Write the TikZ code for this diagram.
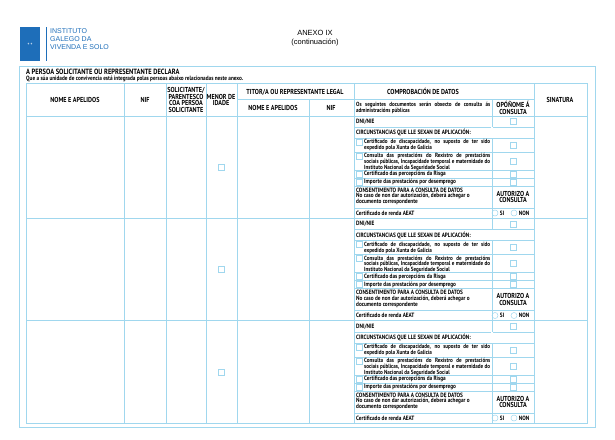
\documentclass[tikz,border=0pt]{standalone}
\usepackage{fontspec}
\setmainfont{PT Sans}[FakeStretch=0.85]
\setsansfont{Liberation Sans}
\usetikzlibrary{positioning}
\definecolor{linea}{RGB}{160,215,238}
\definecolor{xunta}{RGB}{30,110,185}
\hyphenpenalty=10000
\exhyphenpenalty=10000
\begin{document}
\begin{tikzpicture}[x=1pt,y=-1pt,
	grid/.style={draw=linea, line width=0.6pt},
	cbox/.style={draw=linea, line width=0.5pt, minimum size=6pt, inner sep=0pt},
	rbox/.style={draw=linea, line width=0.5pt, circle, minimum size=6pt, inner sep=0pt},
	hdr/.style={font=\bfseries\fontsize{7.2}{6.6}\selectfont, align=center, inner sep=0pt},
	txt/.style={font=\bfseries\fontsize{6.2}{5.8}\selectfont, inner sep=0pt, anchor=west, align=left},
	jtxt/.style={font=\bfseries\fontsize{6.0}{5.8}\selectfont, inner sep=0pt, anchor=north west, align=justify, text width=126pt}]
	\useasboundingbox (0,0) rectangle (615,439);
	% Logo
		\fill[xunta] (20,27) rectangle (40,61);
		\node[font=\fontsize{4}{4}\selectfont, white] (escudo) at (30,44) {\textbf{+\,\,+}};
		\draw[xunta, line width=0.6pt] (46,27) -- (46,61);
		\node[font=\sffamily\fontsize{7}{8}\selectfont, xunta, anchor=north west, align=left, inner sep=0pt] (inst) at (50,28.5) {INSTITUTO\\GALEGO DA\\VIVENDA E SOLO};
		\node[font=\sffamily\fontsize{7.5}{9}\selectfont, align=center, inner sep=0pt] (titulo) at (315,38) {ANEXO IX\\(continuación)};
	% Marco
		\draw[grid] (19,66) rectangle (595,427);
		\node[txt, font=\bfseries\fontsize{7.6}{8}\selectfont] (declara) at (26,72) {A PERSOA SOLICITANTE OU REPRESENTANTE DECLARA};
		\node[txt, font=\bfseries\fontsize{6.2}{7}\selectfont] (convive) at (26,78.6) {Que a súa unidade de convivencia está integrada polas persoas abaixo relacionadas neste anexo.};
	% Cabeceira
		\draw[grid] (26,83) rectangle (587,423);
		\foreach \cx in {124,166,206,237,354,534} \draw[grid] (\cx,83) -- (\cx,423);
		\foreach \cx in {309,492} \draw[grid] (\cx,99) -- (\cx,423);
		\draw[grid] (237,99) -- (534,99);
		\draw[grid] (26,116) -- (587,116);
		\node[hdr] (nome) at (75,100) {NOME E APELIDOS};
		\node[hdr] (nif) at (145,100) {NIF};
		\node[hdr] (parent) at (186,100) {SOLICITANTE/\\PARENTESCO\\COA PERSOA\\SOLICITANTE};
		\node[hdr] (menor) at (221,100) {MENOR DE\\IDADE};
		\node[hdr] (titor) at (295,92) {TITOR/A OU REPRESENTANTE LEGAL};
		\node[hdr] (tnome) at (273,108) {NOME E APELIDOS};
		\node[hdr] (tnif) at (331,108) {NIF};
		\node[hdr] (comprob) at (423,91.5) {COMPROBACIÓN DE DATOS};
		\node[jtxt, text width=134pt] (docs) at (356,102) {Os seguintes documentos serán obxecto de consulta ás administracións públicas};
		\node[hdr] (oponome) at (513,108) {OPÓÑOME Á\\CONSULTA};
		\node[hdr] (sinatura) at (560,100) {SINATURA};
	% Bloques de persoas
		\foreach \b/\t in {1/116,2/218.5,3/321} {
			\draw[grid] (26,\t+102) -- (587,\t+102);
			\foreach \r in {11,22,36,54,62,70,92} \draw[grid] (354,\t+\r) -- (534,\t+\r);
			\fill[white] (491,\t+11.4) rectangle (493,\t+21.6);
			\node[cbox] (menor\b) at (221,\t+51) {};
			\node[txt] (dni\b) at (356,\t+5.5) {DNI/NIE};
			\node[cbox] (dnic\b) at (513,\t+5.5) {};
			\node[txt] (circ\b) at (356,\t+16.5) {CIRCUNSTANCIAS QUE LLE SEXAN DE APLICACIÓN:};
			\node[jtxt] (disc\b) at (364,\t+23.5) {Certificado de discapacidade, no suposto de ter sido expedido pola Xunta de Galicia};
			\node[jtxt] (presta\b) at (364,\t+37) {Consulta das prestacións do Rexistro de prestacións sociais públicas, Incapacidade temporal e maternidade do Instituto Nacional da Seguridade Social};
			\node[txt] (risga\b) at (364,\t+58) {Certificado das percepcións da Risga};
			\node[txt] (desemp\b) at (364,\t+66) {Importe das prestacións por desemprego};
			\foreach \n/\y in {a/26,b/40,c/58,d/66} \node[cbox] (ci\n\b) at (359,\t+\y) {};
			\foreach \n/\y in {a/29,b/45,c/58,d/66} \node[cbox] (cd\n\b) at (513,\t+\y) {};
			\node[txt, anchor=north west] (consent\b) at (356,\t+71.5) {CONSENTIMENTO PARA A CONSULTA DE DATOS\\No caso de non dar autorización, deberá achegar o\\documento correspondente};
			\node[hdr] (autorizo\b) at (513,\t+81) {AUTORIZO A\\CONSULTA};
			\node[txt] (renda\b) at (356,\t+97) {Certificado de renda AEAT};
			\node[rbox] (si\b) at (495,\t+97) {};
			\node[txt, right=1.5pt of si\b] (sit\b) {SI};
			\node[rbox] (non\b) at (514,\t+97) {};
			\node[txt, right=1.5pt of non\b] (nont\b) {NON};
		}
\end{tikzpicture}
\end{document}
